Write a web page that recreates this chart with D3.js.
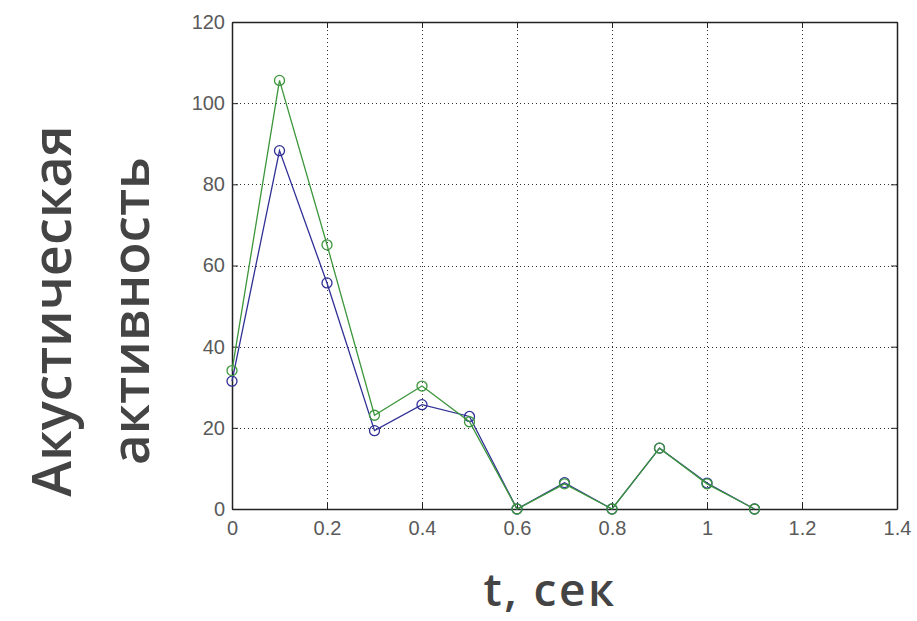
<!DOCTYPE html>
<html>
<head>
<meta charset="utf-8">
<script src="https://cdn.jsdelivr.net/npm/d3@7"></script>
<style>
  html, body { margin: 0; padding: 0; background: #fff; }
  svg { display: block; }
</style>
</head>
<body>
<script>
// Time samples (seconds) and the two measured activity curves
const times = [0, 0.1, 0.2, 0.3, 0.4, 0.5, 0.6, 0.7, 0.8, 0.9, 1.0, 1.1];
const blueSeries = [31.5, 88.3, 55.7, 19.3, 25.7, 22.8, 0, 6.5, 0, 15, 6.4, 0];
const greenSeries = [34.1, 105.6, 65.1, 23.1, 30.3, 21.5, 0, 6.2, 0, 15, 6.2, 0];
const xTicks = [0, 0.2, 0.4, 0.6, 0.8, 1, 1.2, 1.4];
const yTicks = [0, 20, 40, 60, 80, 100, 120];

const W = 917, H = 621;
const plot = { left: 232, top: 22, right: 897, bottom: 509 };

const svg = d3.select("body").append("svg").attr("width", W).attr("height", H);

const x = d3.scaleLinear().domain([0, 1.4]).range([plot.left, plot.right]);
const y = d3.scaleLinear().domain([0, 120]).range([plot.bottom, plot.top]);

// Dotted grid
const grid = svg.append("g").attr("stroke", "#333").attr("stroke-width", 1)
  .attr("stroke-dasharray", "1,3").attr("fill", "none");
grid.selectAll("line.gx").data(xTicks.slice(1, -1)).join("line")
  .attr("x1", d => Math.round(x(d)) + 0.5).attr("x2", d => Math.round(x(d)) + 0.5)
  .attr("y1", plot.top).attr("y2", plot.bottom);
grid.selectAll("line.gy").data(yTicks.slice(1, -1)).join("line")
  .attr("y1", d => Math.round(y(d)) + 0.5).attr("y2", d => Math.round(y(d)) + 0.5)
  .attr("x1", plot.left).attr("x2", plot.right);

// Axes with inward ticks on all four sides
const tickFont = "'Liberation Sans', Arial, sans-serif";
const axisB = svg.append("g").attr("transform", `translate(0,${plot.bottom})`)
  .call(d3.axisBottom(x).tickValues(xTicks).tickSizeInner(-6).tickSizeOuter(0).tickPadding(12)
    .tickFormat(d3.format("~g")));
const axisL = svg.append("g").attr("transform", `translate(${plot.left},0)`)
  .call(d3.axisLeft(y).tickValues(yTicks).tickSizeInner(-6).tickSizeOuter(0).tickPadding(7));
const axisT = svg.append("g").attr("transform", `translate(0,${plot.top})`)
  .call(d3.axisTop(x).tickValues(xTicks).tickSizeInner(-6).tickSizeOuter(0).tickFormat(""));
const axisR = svg.append("g").attr("transform", `translate(${plot.right},0)`)
  .call(d3.axisRight(y).tickValues(yTicks).tickSizeInner(-6).tickSizeOuter(0).tickFormat(""));

[axisB, axisL, axisT, axisR].forEach(g => {
  g.select(".domain").attr("stroke", "#222").attr("stroke-width", 1.5);
  g.selectAll(".tick line").attr("stroke", "#222").attr("stroke-width", 1);
  g.selectAll(".tick text").attr("fill", "#5a5a5a").attr("font-family", tickFont).attr("font-size", 20);
});

// Data curves with circular markers
const line = d3.line().x(d => x(d[0])).y(d => y(d[1]));
const series = [
  { values: blueSeries, color: "#2f2f96" },
  { values: greenSeries, color: "#3c963c" }
];
series.forEach(s => {
  const pts = times.map((t, i) => [t, s.values[i]]);
  svg.append("path").datum(pts).attr("d", line)
    .attr("fill", "none").attr("stroke", s.color).attr("stroke-width", 1.3);
  svg.append("g").selectAll("circle").data(pts).join("circle")
    .attr("cx", d => x(d[0])).attr("cy", d => y(d[1])).attr("r", 5)
    .attr("fill", "none").attr("stroke", s.color).attr("stroke-width", 1.3);
});

// Axis titles
const titleFont = "'Open Sans', 'Noto Sans', sans-serif";
svg.append("text").text("t, сек")
  .attr("x", 550).attr("y", 606).attr("text-anchor", "middle")
  .attr("font-family", titleFont).attr("font-weight", 600).attr("font-size", 46)
  .attr("letter-spacing", 2.5).attr("fill", "#444");

const yTitle = svg.append("g").attr("transform", "translate(0,311) rotate(-90)")
  .attr("font-family", titleFont).attr("font-weight", 600)
  .attr("fill", "#444").attr("text-anchor", "middle");
yTitle.append("text").text("Акустическая").attr("x", 0).attr("y", 71).attr("font-size", 54);
yTitle.append("text").text("активность").attr("x", 0).attr("y", 149).attr("font-size", 53);
</script>
</body>
</html>
